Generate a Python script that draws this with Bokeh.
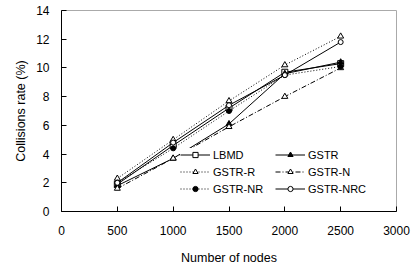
from bokeh.plotting import figure
from bokeh.models import Legend, LegendItem, FixedTicker, Range1d
from bokeh.embed import file_html
from bokeh.resources import INLINE

nodes = [500, 1000, 1500, 2000, 2500]
lbmd = [1.9, 4.6, 7.2, 9.7, 10.3]
gstr = [1.8, 3.7, 6.1, 9.6, 10.4]
gstr_r = [2.3, 5.0, 7.7, 10.2, 12.2]
gstr_n = [1.6, 3.7, 5.9, 8.0, 10.0]
gstr_nr = [2.0, 4.4, 7.0, 9.5, 10.1]
gstr_nrc = [2.0, 4.8, 7.4, 9.5, 11.8]

x_ticks = [0, 500, 1000, 1500, 2000, 2500, 3000]
y_ticks = [0, 2, 4, 6, 8, 10, 12, 14]

FONT = "Liberation Sans"

p = figure(width=412, height=268, output_backend="svg", toolbar_location=None,
           x_range=Range1d(0, 3000), y_range=Range1d(0, 14),
           min_border_left=61, min_border_right=16, min_border_top=10, min_border_bottom=57)
p.xgrid.visible = False
p.ygrid.visible = False
p.outline_line_color = "#aaaaaa"
p.background_fill_color = "white"
p.border_fill_color = "white"

for ax, ticks in ((p.xaxis[0], x_ticks), (p.yaxis[0], y_ticks)):
    ax.ticker = FixedTicker(ticks=ticks)
    ax.major_tick_in = 5
    ax.major_tick_out = 0
    ax.minor_tick_line_color = None
    ax.axis_line_color = "black"
    ax.major_tick_line_color = "black"
    ax.major_label_text_font = FONT
    ax.major_label_text_font_size = "12px"
    ax.major_label_text_color = "black"
    ax.axis_label_text_font = FONT
    ax.axis_label_text_font_size = "12.5px"
    ax.axis_label_text_font_style = "normal"
    ax.axis_label_text_color = "black"

p.xaxis.axis_label = "Number of nodes"
p.yaxis.axis_label = "Collisions rate (%)"
p.xaxis.major_label_standoff = 14
p.xaxis.axis_label_standoff = 13
p.yaxis.major_label_standoff = 12
p.yaxis.axis_label_standoff = 5

specs = [
    ("LBMD", lbmd, "solid", "square", "white"),
    ("GSTR", gstr, "solid", "triangle", "black"),
    ("GSTR-R", gstr_r, "1 2", "triangle", "white"),
    ("GSTR-N", gstr_n, "5 2 1 2", "triangle", "white"),
    ("GSTR-NR", gstr_nr, "1 2", "circle", "black"),
    ("GSTR-NRC", gstr_nrc, "solid", "circle", "white"),
]

items = {}
for name, ys, dash, marker, fill in specs:
    r1 = p.line(nodes, ys, line_color="black", line_width=1, line_dash=dash)
    size = 5 if marker == "circle" else 6
    r2 = p.scatter(nodes, ys, marker=marker, size=size, line_color="black",
                   fill_color=fill, line_width=1)
    items[name] = LegendItem(label=name, renderers=[r1, r2])

# legend fills column-wise: reorder so rows read LBMD/GSTR, GSTR-R/GSTR-N, GSTR-NR/GSTR-NRC
order = ["LBMD", "GSTR-R", "GSTR-NR", "GSTR", "GSTR-N", "GSTR-NRC"]
legend = Legend(items=[items[k] for k in order], ncols=2, location=(119, 16))
legend.label_text_font = FONT
legend.label_text_font_size = "11px"
legend.label_text_color = "black"
legend.glyph_width = 30
legend.glyph_height = 13
legend.label_standoff = 3
legend.label_height = 13
legend.label_width = 58
legend.spacing = 4
legend.padding = 2
legend.margin = 0
legend.border_line_color = None
legend.background_fill_color = "white"
legend.background_fill_alpha = 1.0
p.add_layout(legend, "center")

open("out.html", "w").write(file_html(p, INLINE))
